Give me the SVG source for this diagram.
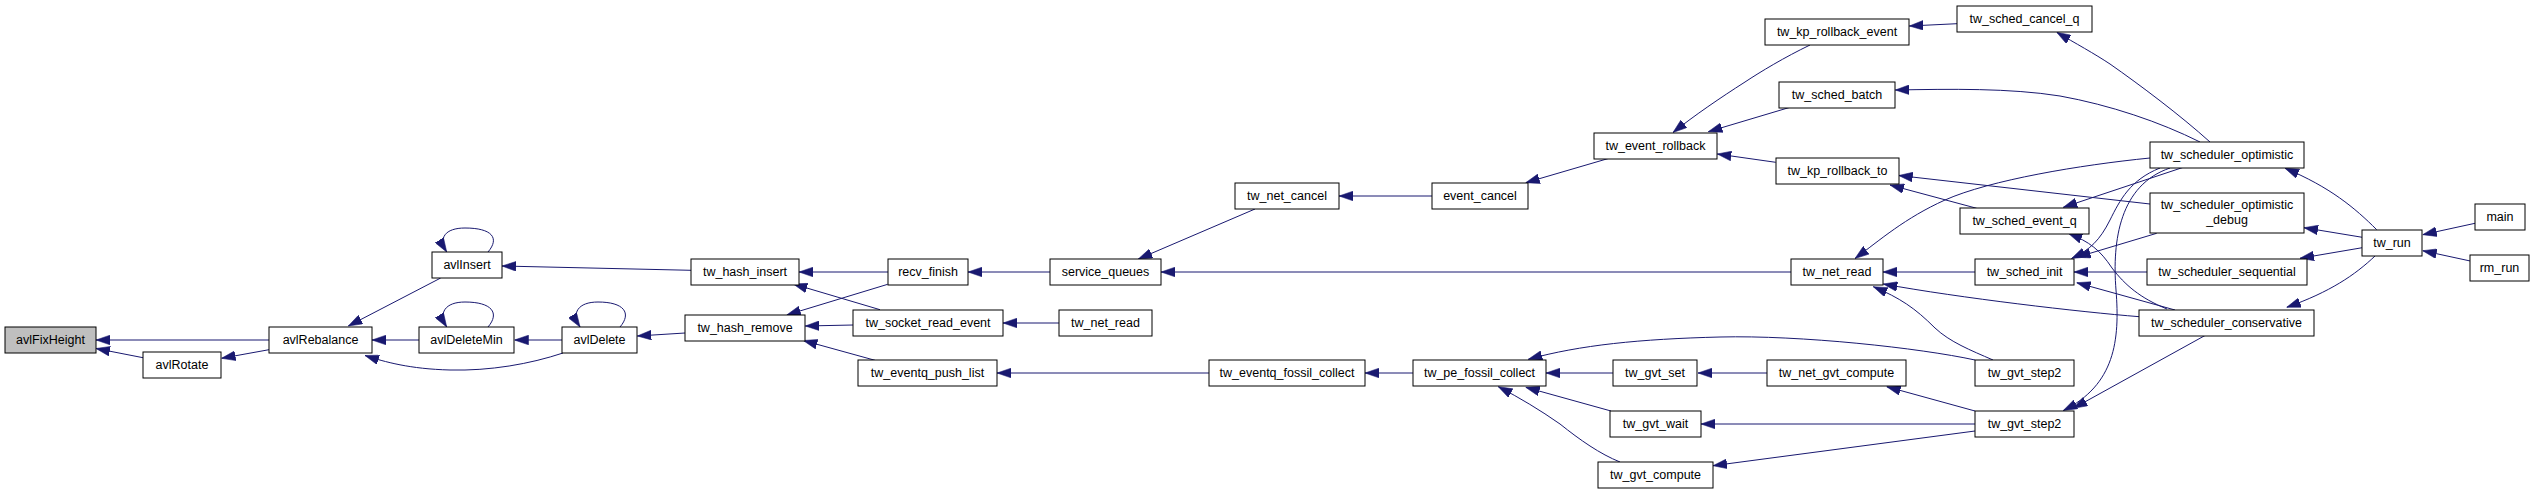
<svg xmlns="http://www.w3.org/2000/svg" width="2535" height="493" viewBox="0 0 2535 493">
<style>
.node rect{fill:#fff;stroke:#000;stroke-width:1}
.node text{font-family:"Liberation Sans",Arial,Helvetica,sans-serif;font-size:12.5px;text-anchor:middle;fill:#000}
.edges path{fill:none;stroke:#191970;stroke-width:1;marker-end:url(#arr)}
</style>
<defs>
<marker id="arr" markerUnits="userSpaceOnUse" markerWidth="14" markerHeight="10" viewBox="0 0 13 9" refX="13" refY="4.5" orient="auto">
<path d="M0,0 L13,4.5 L0,9 z" fill="#191970" stroke="#191970" stroke-width="0.5"/>
</marker>
</defs>
<rect width="2535" height="493" fill="#fff"/>
<g class="edges" id="edges">
<path d="M269,340 L96,340"/>
<path d="M143,357.7 L96,348.5"/>
<path d="M269,349.7 L221.5,358.3"/>
<path d="M440.7,278 L348.3,326"/>
<path d="M419,340 L372,340"/>
<path d="M563,353 C530,364 490,371 450,370 C410,369 385,362 365,355.5"/>
<path d="M488,252 C500,238 492,228 465,228 C445,228 438,238 446.7,252"/>
<path d="M488,327 C500,313 492,302 465,302 C445,302 438,313 446.7,327"/>
<path d="M620,327 C632,313 624,302 598,302 C578,302 571,313 580,327"/>
<path d="M562,340 L514.5,340"/>
<path d="M691,270.3 L502,266"/>
<path d="M685,333 L637.3,336"/>
<path d="M888,272 L799,272"/>
<path d="M880,309.7 L793.3,284"/>
<path d="M887.7,284.3 L786.7,315"/>
<path d="M853,325 L805.3,326"/>
<path d="M875,360.3 L803.3,340.5"/>
<path d="M1050,272 L968,272"/>
<path d="M1059,323 L1003,323"/>
<path d="M1209,373 L997,373"/>
<path d="M1255,209 L1138.3,259"/>
<path d="M1791,272 L1161,272"/>
<path d="M1432,196 L1339,196"/>
<path d="M1610,158 L1525.7,182.7"/>
<path d="M1413,373 L1365,373"/>
<path d="M1613,373 L1546,373"/>
<path d="M1611,411 L1525.7,387.3"/>
<path d="M1620,462 C1600,454 1580,440 1560,424 C1540,410 1520,398 1498.3,386.7"/>
<path d="M1975,360 C1920,348 1800,335 1720,337 C1640,339 1580,345 1528.3,359.3"/>
<path d="M1767,373 L1698,373"/>
<path d="M1975,424 L1701,424"/>
<path d="M1975,431 L1713,465.7"/>
<path d="M1975,411 L1886.7,386.7"/>
<path d="M1810,45 C1785,57 1760,72 1745,82 C1720,98 1695,115 1673,132.5"/>
<path d="M1790,107.3 L1708.3,131.7"/>
<path d="M1775.7,162.3 L1717.3,154"/>
<path d="M1957,23.7 L1909.3,26"/>
<path d="M1976.7,208.3 L1890,185"/>
<path d="M1975,272 L1883,272"/>
<path d="M1993,360 C1970,350 1950,342 1935,328 C1915,308 1900,298 1873.3,286.7"/>
<path d="M2150,158 C2080,165 1990,180 1945,200 C1905,218 1880,240 1855,258.5"/>
<path d="M2139.3,316.7 C2080,312 1960,298 1883.3,284"/>
<path d="M2210,142 C2180,115 2140,85 2110,64 C2095,54 2075,43 2056.7,32.3"/>
<path d="M2200,142 C2160,122 2110,105 2060,96 C2010,88 1950,89 1895.3,90"/>
<path d="M2150,204 L1898.7,175.5"/>
<path d="M2183.3,167.3 L2063.3,207.3"/>
<path d="M2167,309 C2140,298 2125,285 2112,268 C2100,250 2090,242 2068.3,233.3"/>
<path d="M2160,168 C2130,180 2120,200 2110,220 C2100,240 2090,250 2071.5,258.5"/>
<path d="M2170,168 C2120,185 2112,240 2116,290 C2120,340 2115,385 2063.3,410.5"/>
<path d="M2156.7,233.3 L2076.7,257.3"/>
<path d="M2147,272 L2074,272"/>
<path d="M2175,310 L2076.7,282.7"/>
<path d="M2205,335.5 L2073.3,408.3"/>
<path d="M2376.7,229.7 C2355,208 2330,187 2285,168.3"/>
<path d="M2362.3,237.3 L2304,227.7"/>
<path d="M2362.3,247.7 L2300,258.3"/>
<path d="M2375,256 C2355,275 2330,292 2286.7,307.3"/>
<path d="M2475,223.3 L2422.7,234.7"/>
<path d="M2470.3,261 L2422.7,250.7"/>
</g>
<g class="node" id="n_avlFixHeight"><rect x="5" y="327" width="91" height="26" style="fill:#bfbfbf"/><text x="50.5" y="344">avlFixHeight</text></g>
<g class="node" id="n_avlRotate"><rect x="143" y="352" width="78" height="26"/><text x="182" y="369">avlRotate</text></g>
<g class="node" id="n_avlRebalance"><rect x="269" y="327" width="103" height="26"/><text x="320.5" y="344">avlRebalance</text></g>
<g class="node" id="n_avlInsert"><rect x="432" y="252" width="70" height="26"/><text x="467" y="269">avlInsert</text></g>
<g class="node" id="n_avlDeleteMin"><rect x="419" y="327" width="95" height="26"/><text x="466.5" y="344">avlDeleteMin</text></g>
<g class="node" id="n_avlDelete"><rect x="562" y="327" width="75" height="26"/><text x="599.5" y="344">avlDelete</text></g>
<g class="node" id="n_tw_hash_insert"><rect x="691" y="259" width="108" height="26"/><text x="745" y="276">tw_hash_insert</text></g>
<g class="node" id="n_tw_hash_remove"><rect x="685" y="315" width="120" height="26"/><text x="745" y="332">tw_hash_remove</text></g>
<g class="node" id="n_recv_finish"><rect x="888" y="259" width="80" height="26"/><text x="928" y="276">recv_finish</text></g>
<g class="node" id="n_tw_socket_read_event"><rect x="853" y="310" width="150" height="26"/><text x="928" y="327">tw_socket_read_event</text></g>
<g class="node" id="n_tw_eventq_push_list"><rect x="858" y="360" width="139" height="26"/><text x="927.5" y="377">tw_eventq_push_list</text></g>
<g class="node" id="n_service_queues"><rect x="1050" y="259" width="111" height="26"/><text x="1105.5" y="276">service_queues</text></g>
<g class="node" id="n_tw_net_read_a"><rect x="1059" y="310" width="93" height="26"/><text x="1105.5" y="327">tw_net_read</text></g>
<g class="node" id="n_tw_eventq_fossil_collect"><rect x="1209" y="360" width="156" height="26"/><text x="1287" y="377">tw_eventq_fossil_collect</text></g>
<g class="node" id="n_tw_net_cancel"><rect x="1235" y="183" width="104" height="26"/><text x="1287" y="200">tw_net_cancel</text></g>
<g class="node" id="n_event_cancel"><rect x="1432" y="183" width="96" height="26"/><text x="1480" y="200">event_cancel</text></g>
<g class="node" id="n_tw_pe_fossil_collect"><rect x="1413" y="360" width="133" height="26"/><text x="1479.5" y="377">tw_pe_fossil_collect</text></g>
<g class="node" id="n_tw_event_rollback"><rect x="1594" y="133" width="123" height="26"/><text x="1655.5" y="150">tw_event_rollback</text></g>
<g class="node" id="n_tw_gvt_set"><rect x="1613" y="360" width="84" height="26"/><text x="1655" y="377">tw_gvt_set</text></g>
<g class="node" id="n_tw_gvt_wait"><rect x="1610" y="411" width="91" height="26"/><text x="1655.5" y="428">tw_gvt_wait</text></g>
<g class="node" id="n_tw_gvt_compute"><rect x="1598" y="462" width="115" height="26"/><text x="1655.5" y="479">tw_gvt_compute</text></g>
<g class="node" id="n_tw_kp_rollback_event"><rect x="1765" y="19" width="144" height="26"/><text x="1837" y="36">tw_kp_rollback_event</text></g>
<g class="node" id="n_tw_sched_batch"><rect x="1779" y="82" width="116" height="26"/><text x="1837" y="99">tw_sched_batch</text></g>
<g class="node" id="n_tw_kp_rollback_to"><rect x="1776" y="158" width="123" height="26"/><text x="1837.5" y="175">tw_kp_rollback_to</text></g>
<g class="node" id="n_tw_net_read_b"><rect x="1791" y="259" width="92" height="26"/><text x="1837" y="276">tw_net_read</text></g>
<g class="node" id="n_tw_net_gvt_compute"><rect x="1767" y="360" width="139" height="26"/><text x="1836.5" y="377">tw_net_gvt_compute</text></g>
<g class="node" id="n_tw_sched_cancel_q"><rect x="1957" y="6" width="135" height="26"/><text x="2024.5" y="23">tw_sched_cancel_q</text></g>
<g class="node" id="n_tw_sched_event_q"><rect x="1960" y="208" width="129" height="26"/><text x="2024.5" y="225">tw_sched_event_q</text></g>
<g class="node" id="n_tw_sched_init"><rect x="1975" y="259" width="99" height="26"/><text x="2024.5" y="276">tw_sched_init</text></g>
<g class="node" id="n_tw_gvt_step2_a"><rect x="1975" y="360" width="99" height="26"/><text x="2024.5" y="377">tw_gvt_step2</text></g>
<g class="node" id="n_tw_gvt_step2_b"><rect x="1975" y="411" width="99" height="26"/><text x="2024.5" y="428">tw_gvt_step2</text></g>
<g class="node" id="n_tw_scheduler_optimistic"><rect x="2150" y="142" width="154" height="26"/><text x="2227" y="159">tw_scheduler_optimistic</text></g>
<g class="node" id="n_tw_scheduler_optimistic_debug"><rect x="2150" y="193" width="154" height="40"/><text x="2227" y="208.5">tw_scheduler_optimistic</text><text x="2227" y="223.5">_debug</text></g>
<g class="node" id="n_tw_scheduler_sequential"><rect x="2147" y="259" width="160" height="26"/><text x="2227" y="276">tw_scheduler_sequential</text></g>
<g class="node" id="n_tw_scheduler_conservative"><rect x="2139" y="310" width="175" height="26"/><text x="2226.5" y="327">tw_scheduler_conservative</text></g>
<g class="node" id="n_tw_run"><rect x="2362" y="230" width="60" height="26"/><text x="2392" y="247">tw_run</text></g>
<g class="node" id="n_main"><rect x="2475" y="204" width="50" height="26"/><text x="2500" y="221">main</text></g>
<g class="node" id="n_rm_run"><rect x="2470" y="255" width="59" height="26"/><text x="2499.5" y="272">rm_run</text></g>
</svg>
